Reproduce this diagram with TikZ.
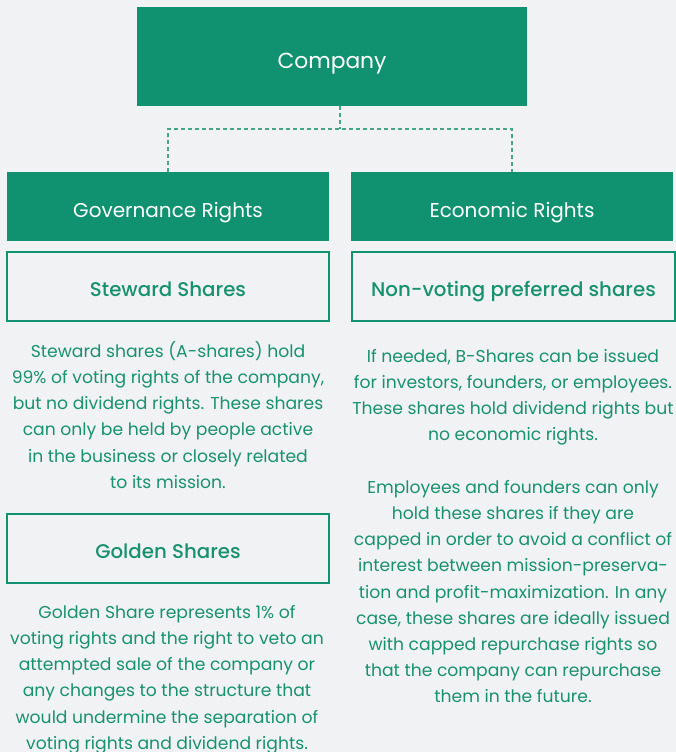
\documentclass[tikz,border=0pt]{standalone}
\usepackage{fontspec}
\setmainfont{Poppins}
\newfontfamily\popmed{Poppins Medium}
\definecolor{brand}{RGB}{16,145,112}
\definecolor{brandtext}{RGB}{24,146,110}
\definecolor{pagebg}{RGB}{241,242,244}
\definecolor{linkgreen}{RGB}{70,165,135}
\begin{document}
\begin{tikzpicture}[x=1bp,y=-1bp,
  solidbox/.style={rectangle, fill=brand, text=white, inner sep=0pt, text depth=0pt},
  outlinebox/.style={rectangle, draw=brand, line width=1.8bp, fill=pagebg, text=brandtext,
    inner sep=0pt, text depth=0pt, minimum width=322bp, minimum height=69bp,
    font=\popmed\fontsize{19.8bp}{22bp}\selectfont, text height=19bp},
  bodytext/.style={anchor=north, align=center, inner sep=0pt, text=brandtext,
    font=\fontsize{17.2bp}{26.2bp}\selectfont},
  conn/.style={draw=linkgreen, line width=1.4bp, dash pattern=on 4bp off 3bp}
]
% page
\fill[pagebg] (0,0) rectangle (676,752);
\useasboundingbox (0,0) rectangle (676,752);

% top level
\node[solidbox, minimum width=390bp, minimum height=99bp, text height=25bp,
  font=\fontsize{21.8bp}{24bp}\selectfont] (company) at (332,56.5) {Company};

% the two kinds of rights
\node[solidbox, minimum width=322bp, minimum height=69bp, text height=21bp,
  font=\fontsize{20bp}{22bp}\selectfont] (gov) at (168,206.5) {Governance Rights};
\node[solidbox, minimum width=322bp, minimum height=69bp, text height=21bp,
  font=\fontsize{20bp}{22bp}\selectfont] (econ) at (512,206.5) {Economic Rights};

% dashed tree
\coordinate (joint) at (340,129);
\draw[conn] (joint |- company.south) -- (joint);
\draw[conn] (gov.north) |- (joint) -| (econ.north);

% share classes
\node[outlinebox] (steward) at (168,286.5) {Steward Shares};
\node[outlinebox, minimum width=323bp] (nonvoting) at (513.5,286.5) {Non-voting preferred shares};
\node[outlinebox] (golden) at (168,548.5) {Golden Shares};

% descriptions
\node[bodytext] (stewardtxt) at (168,338.66) {\strut Steward shares (A-shares) hold\\
  99\% of voting rights of the company,\\
  but no dividend rights. These shares\\
  can only be held by people active\\
  in the business or closely related\\
  to its mission.};

\node[bodytext] (goldentxt) at (167,599.66) {\strut Golden Share represents 1\% of\\
  voting rights and the right to veto an\\
  attempted sale of the company or\\
  any changes to the structure that\\
  would undermine the separation of\\
  voting rights and dividend rights.};

\node[bodytext] (nonvotingtxt) at (513,343.66) {\strut If needed, B-Shares can be issued\\
  for investors, founders, or employees.\\
  These shares hold dividend rights but\\
  no economic rights.\\
  \strut\\
  Employees and founders can only\\
  hold these shares if they are\\
  capped in order to avoid a conflict of\\
  interest between mission-preserva-\\
  tion and profit-maximization. In any\\
  case, these shares are ideally issued\\
  with capped repurchase rights so\\
  that the company can repurchase\\
  them in the future.};
\end{tikzpicture}
\end{document}
